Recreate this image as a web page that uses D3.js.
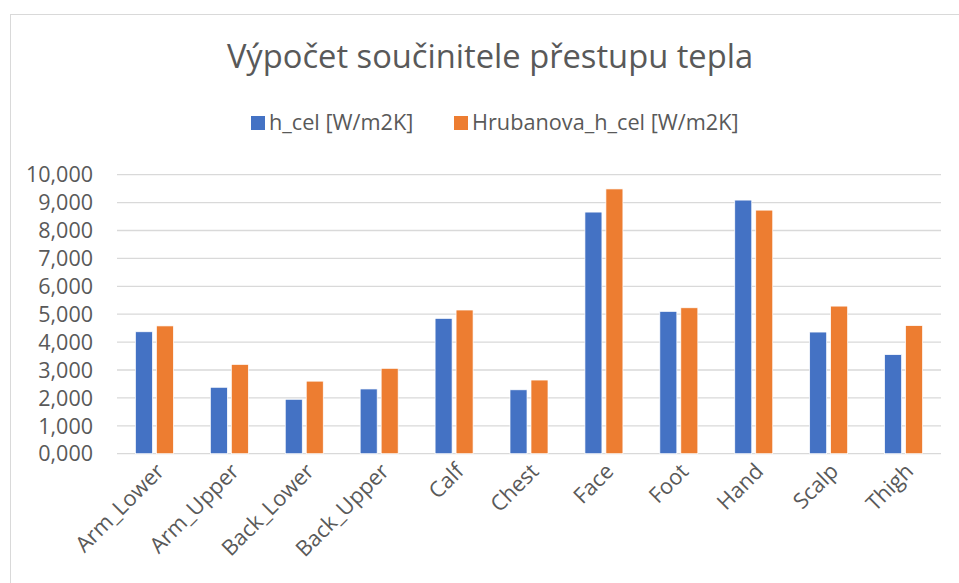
<!DOCTYPE html>
<html>
<head>
<meta charset="utf-8">
<script src="https://cdn.jsdelivr.net/npm/d3@7"></script>
<style>
  body { margin: 0; background: #fff; }
  svg text { font-family: "Open Sans", "Noto Sans", sans-serif; fill: #595959; }
</style>
</head>
<body>
<svg id="chart"></svg>
<script>
const categories = ["Arm_Lower", "Arm_Upper", "Back_Lower", "Back_Upper", "Calf", "Chest", "Face", "Foot", "Hand", "Scalp", "Thigh"];
const seriesNames = ["h_cel [W/m2K]", "Hrubanova_h_cel [W/m2K]"];
const hCel = [4.37, 2.38, 1.95, 2.32, 4.85, 2.29, 8.66, 5.10, 9.09, 4.36, 3.55];
const hrubanova = [4.58, 3.20, 2.60, 3.06, 5.15, 2.64, 9.49, 5.23, 8.73, 5.29, 4.59];
const yTicks = [0, 1, 2, 3, 4, 5, 6, 7, 8, 9, 10];
const colors = ["#4472C4", "#ED7D31"];

const width = 959, height = 583;
const svg = d3.select("#chart").attr("width", width).attr("height", height);

// outer chart border (right/bottom edges are cut off in the original)
svg.append("rect")
   .attr("x", 10.5).attr("y", 14.5)
   .attr("width", 960).attr("height", 580)
   .attr("fill", "none").attr("stroke", "#D9D9D9");

const plotLeft = 117, plotRight = 941, plotTop = 174.7, plotBottom = 453.7;

const x0 = d3.scaleBand().domain(categories).range([plotLeft, plotRight]).paddingInner(0.493).paddingOuter(0.246);
const x1 = d3.scaleBand().domain(seriesNames).range([0, x0.bandwidth()]).paddingInner(0.19);
const y = d3.scaleLinear().domain([0, 10]).range([plotBottom, plotTop]);

const fmt = d3.formatLocale({ decimal: ",", thousands: " ", grouping: [3], currency: ["", ""] }).format(".3f");

// gridlines
svg.append("g")
   .selectAll("line")
   .data(yTicks)
   .join("line")
   .attr("x1", plotLeft).attr("x2", plotRight)
   .attr("y1", d => y(d)).attr("y2", d => y(d))
   .attr("stroke", "#D9D9D9").attr("stroke-width", 1.3);

// y labels
svg.append("g")
   .selectAll("text")
   .data(yTicks)
   .join("text")
   .attr("x", 93).attr("y", d => y(d))
   .attr("dy", "0.36em")
   .attr("text-anchor", "end")
   .style("font-size", "21.5px")
   .text(d => fmt(d));

// bars
const rows = categories.map((c, i) => ({ cat: c, vals: [hCel[i], hrubanova[i]] }));
const groups = svg.append("g")
   .selectAll("g")
   .data(rows)
   .join("g")
   .attr("transform", d => `translate(${x0(d.cat)},0)`);

groups.selectAll("rect")
   .data(d => d.vals.map((v, j) => ({ key: seriesNames[j], v, j })))
   .join("rect")
   .attr("x", d => x1(d.key))
   .attr("y", d => y(d.v))
   .attr("width", x1.bandwidth())
   .attr("height", d => plotBottom - y(d.v))
   .attr("fill", d => colors[d.j])
   .attr("stroke", "#fff").attr("stroke-width", 0.7);

// x labels rotated
svg.append("g")
   .selectAll("text")
   .data(categories)
   .join("text")
   .attr("text-anchor", "end")
   .attr("transform", d => `translate(${x0(d) + x0.bandwidth() / 2 + 11},${plotBottom + 19}) rotate(-45)`)
   .style("font-size", "21.7px")
   .text(d => d);

// title
svg.append("text")
   .attr("x", 490).attr("y", 68)
   .attr("text-anchor", "middle")
   .style("font-size", "32.7px")
   .text("Výpočet součinitele přestupu tepla");

// legend
const legendX = [251, 454];
const legend = svg.append("g")
   .selectAll("g")
   .data(seriesNames)
   .join("g")
   .attr("transform", (d, i) => `translate(${legendX[i]},116)`);
legend.append("rect")
   .attr("width", 14).attr("height", 14)
   .attr("fill", (d, i) => colors[i]);
legend.append("text")
   .attr("x", 18).attr("y", 14)
   .style("font-size", "21.7px")
   .text(d => d);
</script>
</body>
</html>
